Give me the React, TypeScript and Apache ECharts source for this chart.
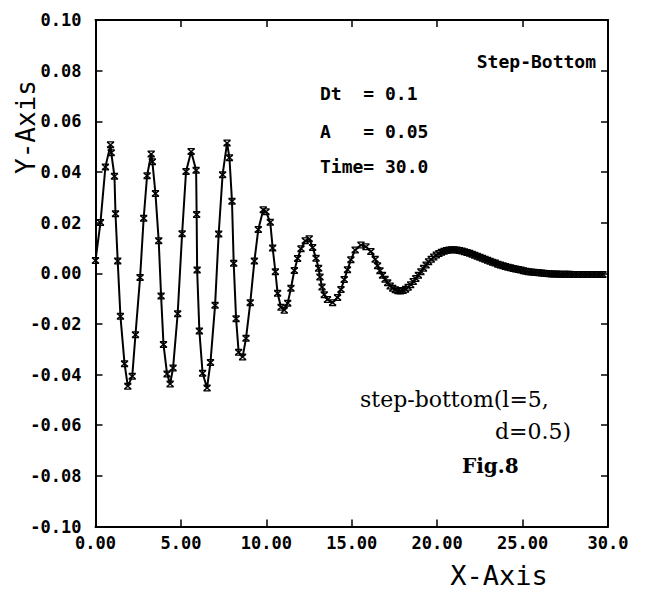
import React, { useEffect, useRef } from "react";
import * as echarts from "echarts";

// ---- data ----
const xTickLabels = ["0.00", "5.00", "10.00", "15.00", "20.00", "25.00", "30.0"];
const yTickLabels = ["-0.10", "-0.08", "-0.06", "-0.04", "-0.02", "0.00", "0.02", "0.04", "0.06", "0.08", "0.10"];

const timeValues = [
  0.0, 0.29, 0.58, 0.88, 0.92, 1.11, 1.17, 1.3, 1.46, 1.7, 1.89, 2.15, 2.34, 2.61, 2.82, 3.02, 3.26, 3.33,
  3.51, 3.7, 3.84, 3.98, 4.19, 4.37, 4.54, 4.81, 5.07, 5.3, 5.6, 5.89, 5.92, 5.95, 6.08, 6.27, 6.53, 6.73,
  7.0, 7.21, 7.44, 7.7, 7.84, 7.99, 8.09, 8.23, 8.38, 8.61, 8.81, 9.06, 9.3, 9.53, 9.82, 9.98, 10.23, 10.37,
  10.53, 10.66, 10.86, 11.05, 11.25, 11.44, 11.64, 11.83, 12.03, 12.28, 12.51, 12.71, 12.91, 13.06, 13.14,
  13.26, 13.39, 13.58, 13.88, 14.17, 14.37, 14.56, 14.75, 14.95, 15.2, 15.54, 15.83, 16.12, 16.37, 16.51,
  16.65, 16.8, 16.95, 17.1, 17.25, 17.4, 17.55, 17.7, 17.85, 18.0, 18.15, 18.3, 18.45, 18.6, 18.75, 18.9,
  19.05, 19.2, 19.35, 19.5, 19.65, 19.8, 19.95, 20.1, 20.25, 20.4, 20.55, 20.7, 20.85, 21.0, 21.15, 21.3,
  21.45, 21.6, 21.75, 21.9, 22.05, 22.2, 22.35, 22.5, 22.65, 22.8, 22.95, 23.1, 23.25, 23.4, 23.55, 23.7,
  23.85, 24.0, 24.15, 24.3, 24.45, 24.6, 24.75, 24.9, 25.05, 25.2, 25.35, 25.5, 25.65, 25.8, 25.95, 26.1,
  26.25, 26.4, 26.55, 26.7, 26.85, 27.0, 27.15, 27.3, 27.45, 27.6, 27.75, 27.9, 28.05, 28.2, 28.35, 28.5,
  28.65, 28.8, 28.95, 29.1, 29.25, 29.4, 29.55, 29.7, 29.85, 30.0,
];

const displacement = [
  0.005, 0.02, 0.042, 0.0507, 0.0476, 0.0383, 0.0235, 0.0048, -0.017, -0.0357, -0.0446, -0.0407, -0.0243,
  -0.0017, 0.0217, 0.0385, 0.0471, 0.044, 0.0315, 0.0128, -0.009, -0.0281, -0.0398, -0.0437, -0.0374,
  -0.016, 0.0156, 0.0402, 0.0481, 0.0407, 0.0232, 0.0013, -0.0228, -0.0395, -0.0453, -0.0352, -0.0126,
  0.0155, 0.0389, 0.0514, 0.0456, 0.0284, 0.0039, -0.018, -0.0312, -0.0331, -0.0257, -0.0116, 0.0048,
  0.0173, 0.0251, 0.0243, 0.0201, 0.01, 0.0006, -0.0079, -0.0134, -0.0146, -0.0118, -0.0059, 0.0011,
  0.0058, 0.0097, 0.0128, 0.0136, 0.0102, 0.0059, 0.002, -0.0015, -0.0054, -0.0085, -0.0104, -0.0116,
  -0.0096, -0.0064, -0.0025, 0.0014, 0.0053, 0.0092, 0.0112, 0.0105, 0.0086, 0.0055, 0.003,
  0.001, -0.0008, -0.0024, -0.0038, -0.005, -0.0059, -0.0065, -0.0069, -0.007, -0.0068, -0.0063, -0.0055,
  -0.0045, -0.0033, -0.0021, -0.0008, 0.0006, 0.002, 0.0033, 0.0045, 0.0055, 0.0064, 0.0072, 0.0078,
  0.0083, 0.0087, 0.009, 0.0092, 0.0093, 0.0093, 0.0092, 0.009, 0.0088, 0.0085, 0.0082, 0.0079, 0.0075,
  0.0071, 0.0067, 0.0063, 0.0059, 0.0055, 0.0051, 0.0047, 0.0043, 0.004, 0.0036, 0.0033, 0.003, 0.0027,
  0.0024, 0.0022, 0.0019, 0.0017, 0.0015, 0.0013, 0.001, 0.0008, 0.0006, 0.0005, 0.0004, 0.0003, 0.0002,
  0.0001, 0.0, -0.0001, -0.0002, -0.0003, -0.0003, -0.0003, -0.0004, -0.0004, -0.0004, -0.0004, -0.0004,
  -0.0005, -0.0005, -0.0005, -0.0005, -0.0005, -0.0005, -0.0005, -0.0005, -0.0005, -0.0005, -0.0005,
  -0.0005, -0.0005,
];

const caseTitle = "Step-Bottom";
const paramLines = ["Dt  = 0.1", "A   = 0.05", "Time= 30.0"];
const captionLines = ["step-bottom(l=5,", "d=0.5)"];
const figLabel = "Fig.8";
const xAxisName = "X-Axis";
const yAxisName = "Y-Axis";

const MARKER =
  "path://M0.5,0H9.5V1.8H0.5ZM0.5,8.2H9.5V10H0.5ZM0,1.8L2.8,1.8L10,8.2L7.2,8.2ZM7.2,1.8L10,1.8L2.8,8.2L0,8.2Z";

const MONO = '"DejaVu Sans Mono", monospace';
const SERIF = '"DejaVu Serif", serif';

export default function App() {
  const ref = useRef<HTMLDivElement>(null);

  useEffect(() => {
    document.body.style.margin = "0";
    if (!ref.current) return;
    const chart = echarts.init(ref.current, undefined, { renderer: "svg" });

    const points = timeValues.map((x, i) => [x, displacement[i]]);
    const xFmt = (v: number) => xTickLabels[Math.round(v / 5)] ?? "";
    const yFmt = (v: number) => yTickLabels[Math.round((v + 0.1) / 0.02)] ?? "";

    const tickStyle = { show: true, inside: true, length: 7, lineStyle: { color: "#000", width: 1.5 } };
    const lineStyle = { show: true, onZero: false, lineStyle: { color: "#000", width: 2 } };

    const textEl = (
      text: string,
      x: number,
      y: number,
      font: string,
      align: string,
      extra: any = {}
    ) => ({
      type: "text",
      x,
      y,
      ...extra,
      style: {
        text,
        font,
        fill: "#000",
        align,
        textAlign: align,
        verticalAlign: "middle",
        textVerticalAlign: "middle",
      },
    });

    chart.setOption({
      animation: false,
      backgroundColor: "#fff",
      grid: { left: 95.5, top: 20, width: 512.5, height: 506.5, containLabel: false },
      xAxis: [
        {
          type: "value",
          position: "bottom",
          min: 0,
          max: 30,
          interval: 5,
          axisLine: lineStyle,
          axisTick: tickStyle,
          splitLine: { show: false },
          axisLabel: {
            formatter: xFmt,
            color: "#000",
            fontFamily: MONO,
            fontWeight: "bold",
            fontSize: 17,
            margin: 8,
          },
        },
        {
          type: "value",
          position: "top",
          min: 0,
          max: 30,
          interval: 5,
          axisLine: lineStyle,
          axisTick: tickStyle,
          splitLine: { show: false },
          axisLabel: { show: false },
        },
      ],
      yAxis: [
        {
          type: "value",
          position: "left",
          min: -0.1,
          max: 0.1,
          interval: 0.02,
          axisLine: lineStyle,
          axisTick: tickStyle,
          splitLine: { show: false },
          axisLabel: {
            formatter: yFmt,
            color: "#000",
            fontFamily: MONO,
            fontWeight: "bold",
            fontSize: 17,
            margin: 14,
          },
        },
        {
          type: "value",
          position: "right",
          min: -0.1,
          max: 0.1,
          interval: 0.02,
          axisLine: lineStyle,
          axisTick: tickStyle,
          splitLine: { show: false },
          axisLabel: { show: false },
        },
      ],
      series: [
        {
          type: "line",
          data: points,
          xAxisIndex: 0,
          yAxisIndex: 0,
          symbol: MARKER,
          symbolSize: [8, 7],
          showAllSymbol: true,
          lineStyle: { color: "#000", width: 2 },
          itemStyle: { color: "#000", borderWidth: 0 },
          emphasis: { disabled: true },
          silent: true,
          z: 3,
        },
      ],
      graphic: [
        textEl(yAxisName, 26, 127, `26px ${MONO}`, "center", { rotation: Math.PI / 2 }),
        textEl(xAxisName, 499, 575, `27px ${MONO}`, "center"),
        textEl(caseTitle, 596, 61, `bold 18px ${MONO}`, "right"),
        textEl(paramLines[0], 320, 93.5, `bold 18px ${MONO}`, "left"),
        textEl(paramLines[1], 320, 131, `bold 18px ${MONO}`, "left"),
        textEl(paramLines[2], 320, 166, `bold 18px ${MONO}`, "left"),
        textEl(captionLines[0], 360, 399, `22px ${SERIF}`, "left"),
        textEl(captionLines[1], 571, 431, `22px ${SERIF}`, "right"),
        textEl(figLabel, 462, 466, `bold 20px ${SERIF}`, "left"),
      ],
    });

    return () => chart.dispose();
  }, []);

  return <div ref={ref} style={{ width: 645, height: 603 }} />;
}
